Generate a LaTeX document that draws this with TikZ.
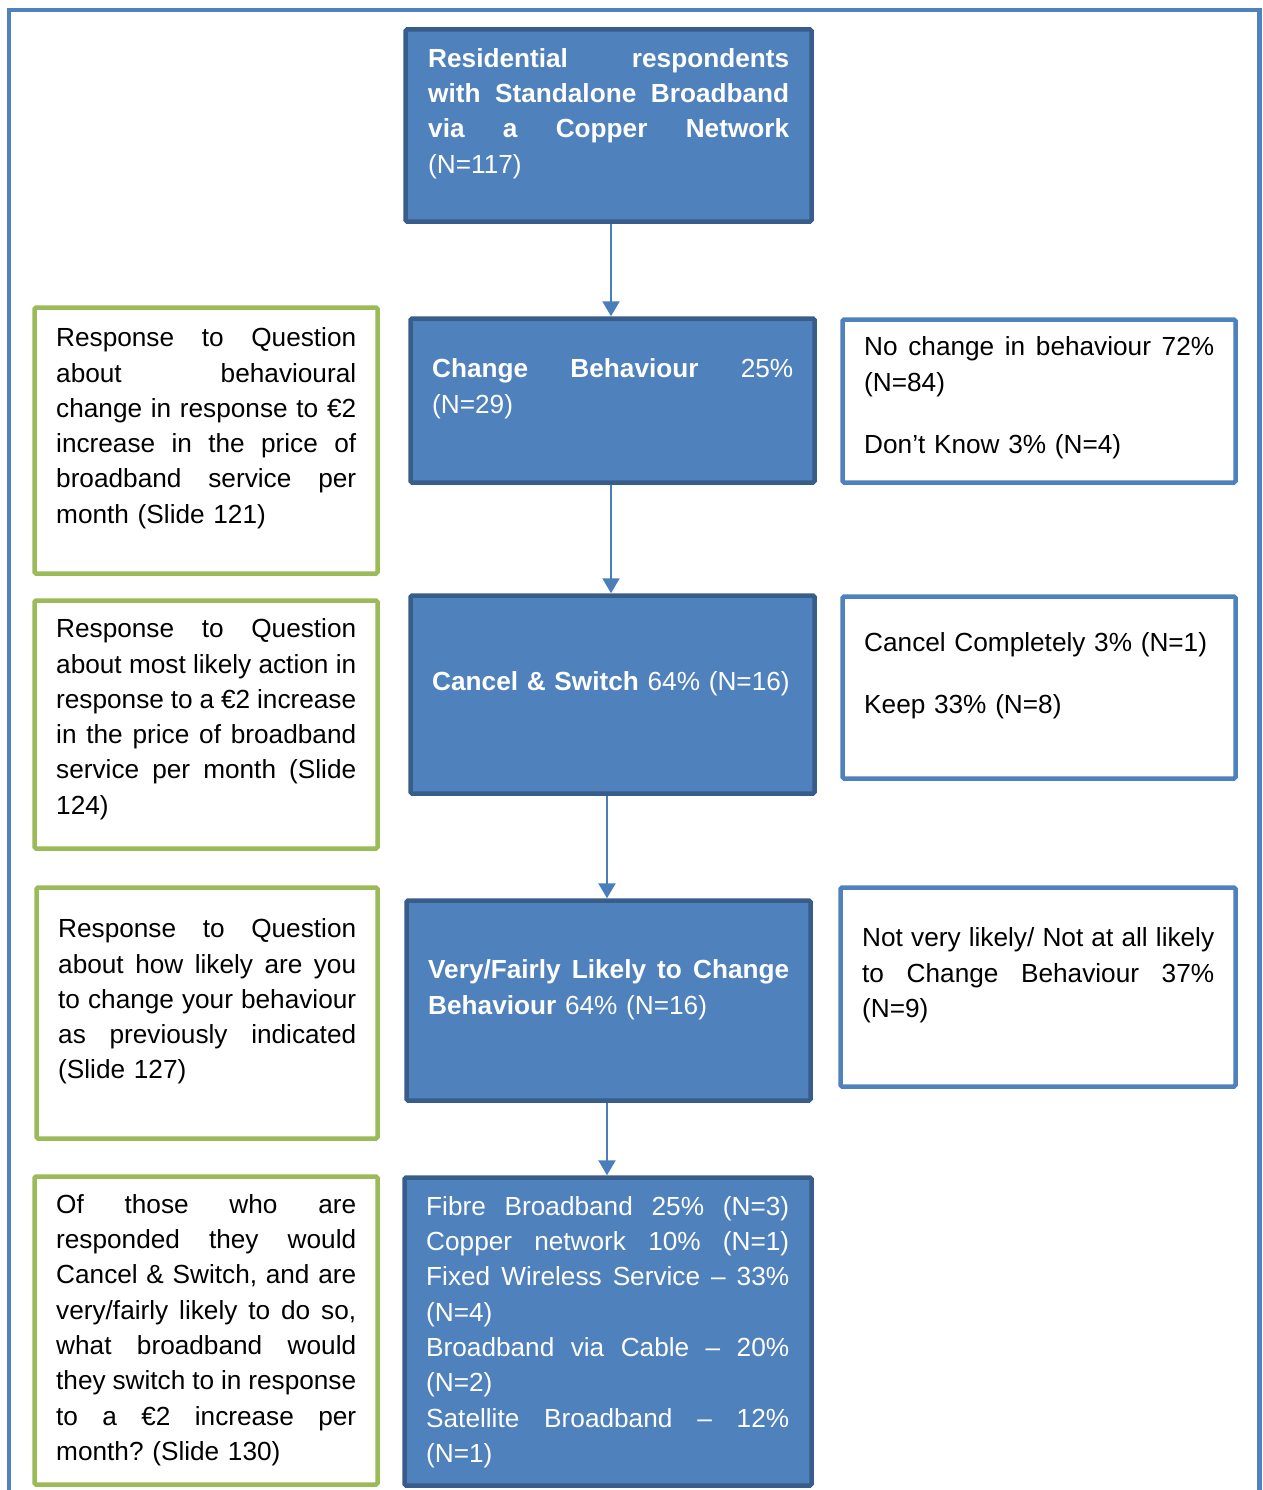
\documentclass[tikz,border=0pt]{standalone}
\usepackage{fontspec}
\setmainfont{Liberation Sans}
\usetikzlibrary{arrows.meta}

\definecolor{fillblue}{HTML}{4F81BD}
\definecolor{edgeblue}{HTML}{385D8A}
\definecolor{leafgreen}{HTML}{9BBB59}
\definecolor{arrowblue}{HTML}{4A7EBB}

% body text: 26.2pt type on a 35.3pt line pitch
\newcommand\bodyfont{\fontsize{26.2pt}{35.3pt}\selectfont\frenchspacing}
\newcommand\lnstrut{\vrule width 0pt height 25pt depth 10.3pt}
% column width of the text block in force
\newdimen\colw
% a justified line (word spaces stretch to fill) and a natural (last) line
\newcommand\jl[1]{\leavevmode\hbox to\colw{\spaceskip=0.278em plus 1fil minus 0.12em
  \xspaceskip=\spaceskip\lnstrut#1}}
\newcommand\nl[1]{\leavevmode\hbox to\colw{\lnstrut#1\hfil}}

\tikzset{
  flowbox/.style={draw=edgeblue, fill=fillblue, line width=4.5pt, rounded corners=1.5pt, inner sep=0pt},
  notebox/.style={draw=leafgreen, fill=white, line width=4.5pt, rounded corners=1.5pt, inner sep=0pt},
  sidebox/.style={draw=fillblue, fill=white, line width=4.5pt, rounded corners=1.5pt, inner sep=0pt},
  txt/.style={anchor=north west, inner sep=0pt, font=\bodyfont, text width=#1,
    execute at begin node={\global\colw=#1\relax}},
  flowtxt/.style={txt=#1, text=white},
  arr/.style={draw=arrowblue, line width=2.3pt, -{Triangle[width=17pt,length=15pt]}},
  frame/.style={draw=fillblue, line width=4.5pt}
}

\begin{document}
\begin{tikzpicture}[x=1pt, y=-1pt]
\useasboundingbox (0,0) rectangle (1262,1490);

% outer frame, open at the bottom
\draw[frame] (9,1490) -- (9,10) -- (1259.5,10) -- (1259.5,1490);

% central flow boxes
\node[flowbox, minimum width=406pt, minimum height=192pt] (b1) at (608.5,125.5) {};
\node[flowbox, minimum width=404pt, minimum height=164pt] (b2) at (612.5,400.5) {};
\node[flowbox, minimum width=404pt, minimum height=198pt] (b3) at (612.5,694.5) {};
\node[flowbox, minimum width=404pt, minimum height=200pt] (b4) at (608.5,1000.5) {};
\node[flowbox, minimum width=407pt, minimum height=308pt] (b5) at (608,1331.5) {};

% question boxes on the left
\node[notebox, minimum width=343pt, minimum height=266pt] (g1) at (206,440.5) {};
\node[notebox, minimum width=343pt, minimum height=248pt] (g2) at (206,724.5) {};
\node[notebox, minimum width=341pt, minimum height=251pt] (g3) at (207,1013) {};
\node[notebox, minimum width=343pt, minimum height=308pt] (g4) at (206,1330.5) {};

% remaining answers on the right
\node[sidebox, minimum width=393pt, minimum height=163pt] (r1) at (1039,401) {};
\node[sidebox, minimum width=393pt, minimum height=182pt] (r2) at (1039,687.5) {};
\node[sidebox, minimum width=395pt, minimum height=199pt] (r3) at (1038,987) {};

% connectors
\draw[arr] ([xshift=2.5pt]b1.south) -- ([xshift=2.5pt]b1.south |- b2.north);
\draw[arr] ([xshift=-1.5pt]b2.south) -- ([xshift=-1.5pt]b2.south |- b3.north);
\draw[arr] ([xshift=-1.5pt]b4.north |- b3.south) -- ([xshift=-1.5pt]b4.north);
\draw[arr] ([xshift=-1.5pt]b4.south) -- ([xshift=-1.5pt]b4.south |- b5.north);

% flow box texts
\node[flowtxt=361pt] (b1t) at (428,42) {\jl{\bfseries Residential respondents}\\
\jl{\bfseries with Standalone Broadband}\\
\jl{\bfseries via a Copper Network}\\
\nl{(N=117)}};

\node[flowtxt=361pt] (b2t) at (432,352.5) {\jl{\textbf{Change Behaviour} 25\%}\\
\nl{(N=29)}};

\node[flowtxt=361pt] (b3t) at (432,665.5) {\nl{\textbf{Cancel \& Switch} 64\% (N=16)}};

\node[flowtxt=361pt] (b4t) at (428,953.5) {\jl{\textbf{Very/Fairly Likely to Change}}\\
\nl{\textbf{Behaviour} 64\% (N=16)}};

\node[flowtxt=363pt] (b5t) at (426,1190) {\jl{Fibre Broadband 25\% (N=3)}\\
\jl{Copper network 10\% (N=1)}\\
\jl{Fixed Wireless Service – 33\%}\\
\nl{(N=4)}\\
\jl{Broadband via Cable – 20\%}\\
\nl{(N=2)}\\
\jl{Satellite Broadband – 12\%}\\
\nl{(N=1)}};

% question texts
\node[txt=300pt] (g1t) at (56,321.5) {\jl{Response to Question}\\
\jl{about behavioural}\\
\jl{change in response to €2}\\
\jl{increase in the price of}\\
\jl{broadband service per}\\
\nl{month (Slide 121)}};

\node[txt=300pt] (g2t) at (56,612.5) {\jl{Response to Question}\\
\jl{about most likely action in}\\
\jl{response to a €2 increase}\\
\jl{in the price of broadband}\\
\jl{service per month (Slide}\\
\nl{124)}};

\node[txt=298pt] (g3t) at (58,912.5) {\jl{Response to Question}\\
\jl{about how likely are you}\\
\jl{to change your behaviour}\\
\jl{as previously indicated}\\
\nl{(Slide 127)}};

\node[txt=300pt] (g4t) at (56,1188) {\jl{Of those who are}\\
\jl{responded they would}\\
\jl{Cancel \& Switch, and are}\\
\jl{very/fairly likely to do so,}\\
\jl{what broadband would}\\
\jl{they switch to in response}\\
\jl{to a €2 increase per}\\
\nl{month? (Slide 130)}};

% answer texts
\node[txt=350pt] (r1t) at (864,330.5) {\jl{No change in behaviour 72\%}\\
\nl{(N=84)}\\[26.7pt]
\nl{Don’t Know 3\% (N=4)}};

\node[txt=350pt] (r2t) at (864,626.5) {\nl{Cancel Completely 3\% (N=1)}\\[26.7pt]
\nl{Keep 33\% (N=8)}};

\node[txt=352pt] (r3t) at (862,921.5) {\jl{Not very likely/ Not at all likely}\\
\jl{to Change Behaviour 37\%}\\
\nl{(N=9)}};

\end{tikzpicture}
\end{document}
